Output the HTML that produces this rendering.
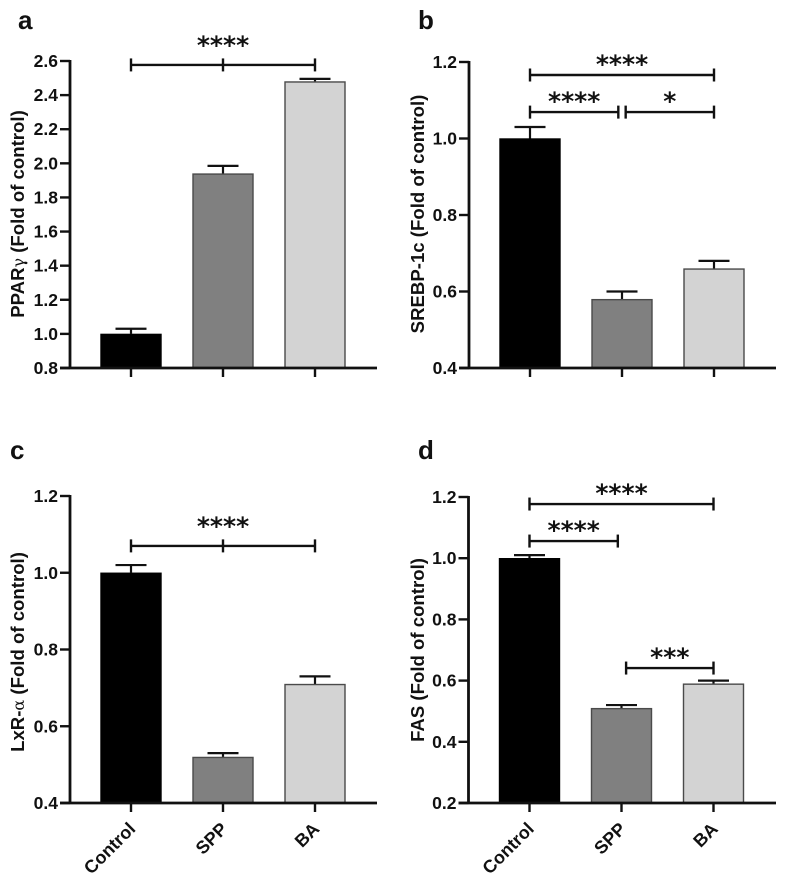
<!DOCTYPE html>
<html>
<head>
<meta charset="utf-8">
<style>
html,body{margin:0;padding:0;background:#fff;width:785px;height:882px;overflow:hidden}
svg{display:block}
text{font-family:"Liberation Sans",sans-serif;font-weight:bold;fill:#111}
.tick{font-size:17.5px}
.title{font-size:18.6px}
.panel{font-size:26px}
.stars{font-family:"DejaVu Sans",sans-serif;font-size:25px;font-weight:bold}
.cat{font-size:18px}
</style>
</head>
<body>
<svg id="figure" xmlns="http://www.w3.org/2000/svg" width="785" height="882" viewBox="0 0 785 882"></svg>
<script>
const categories = ['Control', 'SPP', 'BA'];
const panelATicks = [0.8, 1.0, 1.2, 1.4, 1.6, 1.8, 2.0, 2.2, 2.4, 2.6];
const panelBTicks = [0.4, 0.6, 0.8, 1.0, 1.2];
const panelCTicks = [0.4, 0.6, 0.8, 1.0, 1.2];
const panelDTicks = [0.2, 0.4, 0.6, 0.8, 1.0, 1.2];
const panelAValues = [1.0, 1.94, 2.48];
const panelBValues = [1.0, 0.58, 0.66];
const panelCValues = [1.0, 0.52, 0.71];
const panelDValues = [1.0, 0.51, 0.59];
const panelAErrors = [0.03, 0.045, 0.015];
const panelBErrors = [0.03, 0.02, 0.02];
const panelCErrors = [0.02, 0.01, 0.02];
const panelDErrors = [0.01, 0.01, 0.01];
const panelABrackets = [{from: 0, to: 2, level: 2.577, mid: true, label: '****'}];
const panelBBrackets = [
  {from: 0, to: 2, level: 1.166, mid: false, label: '****'},
  {from: 0, to: 0.96, level: 1.069, mid: false, label: '****'},
  {from: 1.04, to: 2, level: 1.069, mid: false, label: '*'}
];
const panelCBrackets = [{from: 0, to: 2, level: 1.07, mid: true, label: '****'}];
const panelDBrackets = [
  {from: 0, to: 2, level: 1.177, mid: false, label: '****'},
  {from: 0, to: 0.96, level: 1.056, mid: false, label: '****'},
  {from: 1.05, to: 2, level: 0.641, mid: false, label: '***'}
];

const NS = 'http://www.w3.org/2000/svg';
const svg = document.getElementById('figure');
const barFills = ['#000000', '#808080', '#d3d3d3'];
const barStrokes = ['#000000', '#4a4a4a', '#4a4a4a'];

function make(tag, attrs, parent) {
  const el = document.createElementNS(NS, tag);
  for (const k in attrs) el.setAttribute(k, attrs[k]);
  parent.appendChild(el);
  return el;
}
function line(x1, y1, x2, y2, w, parent, name) {
  const el = make('line', {x1: x1, y1: y1, x2: x2, y2: y2, stroke: '#111', 'stroke-width': w}, parent);
  
  
  return el;
}

function drawPanel(cfg) {
  const g = make('g', {}, svg);
  
  
  const yMin = cfg.ticks[0], yMax = cfg.ticks[cfg.ticks.length - 1];
  const yScale = v => cfg.bottom - (v - yMin) / (yMax - yMin) * (cfg.bottom - cfg.top);
  const xScale = i => cfg.x0 + i * cfg.step;

  const letter = make('text', {x: cfg.letterX, y: cfg.letterY, class: 'panel'}, g);
  letter.textContent = cfg.letter;
  
  

  categories.forEach((c, i) => {
    const val = cfg.values[i], err = cfg.errors[i], cx = xScale(i);
    line(cx, yScale(val), cx, yScale(val + err), 2.2, g, 'error-bar-' + c.toLowerCase());
    line(cx - 15.5, yScale(val + err), cx + 15.5, yScale(val + err), 2.2, g, 'error-cap-' + c.toLowerCase());
    const bar = make('rect', {
      x: cx - 30, y: yScale(val) + 0.5, width: 60, height: cfg.bottom - yScale(val) - 0.5,
      fill: barFills[i], stroke: barStrokes[i], 'stroke-width': 1.4
    }, g);
    
    
    line(cx, cfg.bottom, cx, cfg.bottom + 9, 2.4, g, 'x-tick');
    if (cfg.showCats) {
      const t = make('text', {
        class: 'cat', 'text-anchor': 'end',
        transform: 'translate(' + (cx + 5.5) + ',' + (cfg.bottom + 27) + ') rotate(-45)'
      }, g);
      t.textContent = c;
      
      
    }
  });

  line(cfg.axisX, cfg.top - 1, cfg.axisX, cfg.bottom + 1, 2.8, g, 'y-axis');
  line(cfg.axisX - 10, cfg.bottom, cfg.axisEnd, cfg.bottom, 2.8, g, 'x-axis');

  cfg.ticks.forEach(v => {
    line(cfg.axisX - 10, yScale(v), cfg.axisX, yScale(v), 2.4, g, 'y-tick');
    const t = make('text', {x: cfg.axisX - 12, y: yScale(v) + 6, 'text-anchor': 'end', class: 'tick'}, g);
    t.textContent = v.toFixed(1);
    
    
  });

  const title = make('text', {
    class: 'title', 'text-anchor': 'middle',
    transform: 'translate(' + cfg.titleX + ',' + cfg.titleY + ') rotate(-90)'
  }, g);
  
  
  const a = make('tspan', {}, title);
  a.textContent = cfg.titleA;
  if (cfg.greek) {
    const b = make('tspan', {style: 'font-family:\'DejaVu Serif\',serif;font-weight:normal;font-size:16px'}, title);
    b.textContent = cfg.greek;
  }
  const c = make('tspan', {}, title);
  c.textContent = ' (Fold of control)';

  cfg.brackets.forEach(br => {
    const bg = make('g', {}, g);
    
    
    const x1 = xScale(br.from), x2 = xScale(br.to), y = yScale(br.level);
    line(x1, y, x2, y, 2.4, bg, 'bracket-line');
    line(x1, y - 6.5, x1, y + 6.5, 2.4, bg, 'bracket-end');
    line(x2, y - 6.5, x2, y + 6.5, 2.4, bg, 'bracket-end');
    if (br.mid) line((x1 + x2) / 2, y - 6.5, (x1 + x2) / 2, y + 6.5, 2.4, bg, 'bracket-mid');
    const s = make('text', {x: (x1 + x2) / 2, y: y - (br.mid ? 11 : 2), 'text-anchor': 'middle', class: 'stars'}, bg);
    s.textContent = br.label;
    
    
  });
}

drawPanel({letter: 'a', letterX: 18, letterY: 29, ticks: panelATicks, values: panelAValues, errors: panelAErrors,
  brackets: panelABrackets, top: 61, bottom: 368, axisX: 70, axisEnd: 377, x0: 131, step: 92,
  titleX: 24, titleY: 214, titleA: 'PPAR', greek: 'γ', showCats: false});
drawPanel({letter: 'b', letterX: 418, letterY: 29, ticks: panelBTicks, values: panelBValues, errors: panelBErrors,
  brackets: panelBBrackets, top: 62, bottom: 368, axisX: 469, axisEnd: 776, x0: 530, step: 92,
  titleX: 424, titleY: 214, titleA: 'SREBP-1c', greek: '', showCats: false});
drawPanel({letter: 'c', letterX: 10, letterY: 459, ticks: panelCTicks, values: panelCValues, errors: panelCErrors,
  brackets: panelCBrackets, top: 496, bottom: 803, axisX: 70, axisEnd: 377, x0: 131, step: 92,
  titleX: 24, titleY: 652, titleA: 'LxR-', greek: 'α', showCats: true});
drawPanel({letter: 'd', letterX: 418, letterY: 459, ticks: panelDTicks, values: panelDValues, errors: panelDErrors,
  brackets: panelDBrackets, top: 497, bottom: 803, axisX: 468.5, axisEnd: 776, x0: 529.5, step: 92,
  titleX: 424, titleY: 650, titleA: 'FAS', greek: '', showCats: true});
</script>
</body>
</html>
